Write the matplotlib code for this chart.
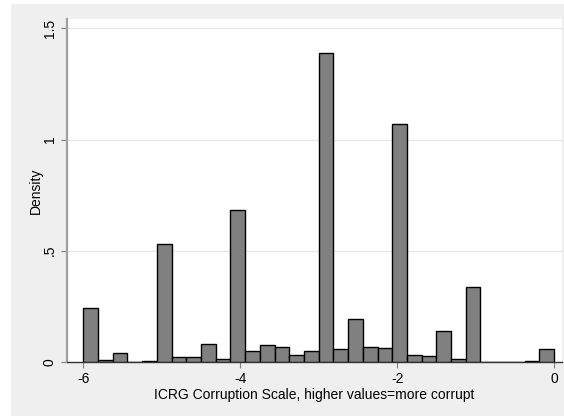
import matplotlib
matplotlib.use("Agg")
import matplotlib.pyplot as plt
from matplotlib.patches import Rectangle

# histogram of ICRG corruption scale, 32 bins from -6 to 0
bin_start = -6.0
bin_width = 0.1875
density = [0.241, 0.007, 0.039, 0.0, 0.004, 0.528, 0.020, 0.023,
           0.078, 0.014, 0.682, 0.047, 0.075, 0.065, 0.032, 0.046,
           1.388, 0.056, 0.190, 0.068, 0.062, 1.068, 0.029, 0.026,
           0.136, 0.011, 0.336, 0.0, 0.0, 0.0, 0.002, 0.056]
xticks = [-6, -4, -2, 0]
yticks = [0, 0.5, 1, 1.5]
ylabels = ["0", ".5", "1", "1.5"]

plt.rcParams['font.family'] = ['Liberation Sans', 'DejaVu Sans']

fig = plt.figure(figsize=(5.64, 4.16), dpi=100, facecolor="white")
# stata graph region
fig.patches.append(Rectangle((11/564, 0), 1 - 11/564, 1 - 4/416,
                             transform=fig.transFigure, facecolor="#efefef",
                             edgecolor="none", zorder=-10))
ax = fig.add_axes([0.1183, 0.1305, 0.9965 - 0.1183, 0.9536 - 0.1305])
ax.set_facecolor("white")

lefts = [bin_start + i*bin_width for i in range(len(density))]
ax.bar(lefts, density, width=bin_width, align="edge", color="#808080",
       edgecolor="black", linewidth=1.0, zorder=3)

ax.set_xlim(-6.212, 0.102)
ax.set_ylim(0, 1.541)
ax.set_xticks(xticks)
ax.set_xticklabels([str(t) for t in xticks])
ax.set_yticks(yticks)
ax.set_yticklabels(ylabels, rotation=90, va="center")
for y in yticks[1:]:
    ax.axhline(y, color="#e6e6e6", linewidth=0.9, zorder=1)

for s in ["top", "right"]:
    ax.spines[s].set_visible(False)
ax.spines["left"].set_color("#a0a0a0")
ax.spines["left"].set_linewidth(1.6)
ax.spines["bottom"].set_color("#333333")
ax.spines["bottom"].set_linewidth(1.0)
ax.tick_params(axis="both", colors="#808080", labelcolor="black",
               length=4, width=0.8, labelsize=10)
ax.tick_params(axis="y", pad=3)

ax.set_xlabel("ICRG Corruption Scale, higher values=more corrupt",
              fontsize=10, labelpad=1)
ax.set_ylabel("Density", fontsize=10, labelpad=0)

fig.savefig("out.png", dpi=100, facecolor=fig.get_facecolor())
